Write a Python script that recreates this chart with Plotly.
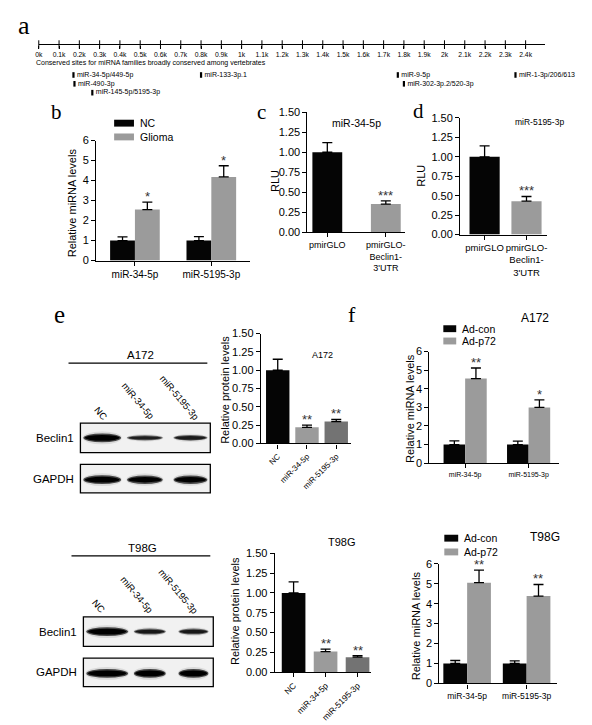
import plotly.graph_objects as go

W, H = 592, 725
SANS = "Liberation Sans, Arial, sans-serif"
SERIF = "Liberation Serif, Times New Roman, serif"


def px(x):
    return x / W


def py(y):
    return 1 - y / H


# ---------------- data ----------------
# panel a : 3'UTR map
A_TICK_LABELS = ["0k", "0.1k", "0.2k", "0.3k", "0.4k", "0.5k", "0.6k", "0.7k", "0.8k", "0.9k",
                 "1k", "1.1k", "1.2k", "1.3k", "1.4k", "1.5k", "1.6k", "1.7k", "1.8k", "1.9k",
                 "2k", "2.1k", "2.2k", "2.3k", "2.4k"]
A_SITE_LABELS = ["miR-34-5p/449-5p", "miR-490-3p", "miR-145-5p/5195-3p", "miR-133-3p.1",
                 "miR-9-5p", "miR-302-3p.2/520-3p", "miR-1-3p/206/613"]
A_SITE_POS_K = [0.171, 0.176, 0.264, 0.80, 1.77, 1.80, 2.35]
A_SITE_ROW = [0, 1, 2, 0, 0, 1, 0]

# panel b
B_CATS = ["miR-34-5p", "miR-5195-3p"]
B_SERIES = ["NC", "Glioma"]
B_NC = [1.0, 1.0]
B_NC_ERR = [0.18, 0.20]
B_GLIOMA = [2.55, 4.18]
B_GLIOMA_ERR = [0.37, 0.56]
B_SIG = ["*", "*"]

# panels c, d
C_CATS = ["pmirGLO", "pmirGLO-<br>Beclin1-<br>3'UTR"]
C_RLU = [1.0, 0.35]
C_ERR = [0.12, 0.04]
C_SIG = ["", "***"]
D_RLU = [1.0, 0.43]
D_ERR = [0.14, 0.06]
D_SIG = ["", "***"]

# panel e
E_CATS = ["NC", "miR-34-5p", "miR-5195-3p"]
E_A172 = [1.0, 0.22, 0.30]
E_A172_ERR = [0.15, 0.03, 0.03]
E_A172_SIG = ["", "**", "**"]
E_T98G = [1.0, 0.26, 0.19]
E_T98G_ERR = [0.14, 0.03, 0.02]
E_T98G_SIG = ["", "**", "**"]

# western blot band intensities (relative)
BLOT_LANES = ["NC", "miR-34-5p", "miR-5195-3p"]
A172_BECLIN1 = [1.0, 0.45, 0.5]
A172_GAPDH = [1.0, 0.95, 0.95]
T98G_BECLIN1 = [1.0, 0.55, 0.55]
T98G_GAPDH = [1.0, 1.0, 1.0]

# panel f
F_CATS = ["miR-34-5p", "miR-5195-3p"]
F_SERIES = ["Ad-con", "Ad-p72"]
F_A172_CON = [1.0, 1.0]
F_A172_CON_ERR = [0.20, 0.18]
F_A172_P72 = [4.55, 3.0]
F_A172_P72_ERR = [0.57, 0.40]
F_A172_SIG = ["**", "*"]
F_T98G_CON = [1.0, 1.0]
F_T98G_CON_ERR = [0.15, 0.13]
F_T98G_P72 = [5.05, 4.38]
F_T98G_P72_ERR = [0.63, 0.58]
F_T98G_SIG = ["**", "**"]

BLACK = "#050505"
GRAY = "#9b9b9b"
DGRAY = "#737373"

# ---------------- layout helpers ----------------
layout = dict(width=W, height=H, autosize=False, margin=dict(l=0, r=0, t=0, b=0),
              paper_bgcolor="white", plot_bgcolor="rgba(0,0,0,0)", barmode="overlay",
              showlegend=False, shapes=[], annotations=[],
              font=dict(family=SANS, color="black"))

AX = dict(showline=True, linecolor="black", linewidth=1.3, ticks="outside", ticklen=4,
          tickwidth=1.3, tickcolor="black", showgrid=False, zeroline=False,
          tickfont=dict(family=SANS, size=11, color="black"), fixedrange=True)


def set_axes(n, xpx, ypx, xr, yr, xkw=None, ykw=None):
    s = "" if n == 1 else str(n)
    xa = dict(AX)
    xa.update(domain=[px(xpx[0]), px(xpx[1])], range=xr, anchor="y" + s)
    ya = dict(AX)
    ya.update(domain=[py(ypx[1]), py(ypx[0])], range=yr, anchor="x" + s)
    xa.update(xkw or {})
    ya.update(ykw or {})
    layout["xaxis" + s] = xa
    layout["yaxis" + s] = ya


def ann(x, y, text, size=11, family=SANS, angle=0, xanchor="center", yanchor="middle", **kw):
    d = dict(x=px(x), y=py(y), xref="paper", yref="paper", text=text, showarrow=False,
             font=dict(family=family, size=size, color="black"), textangle=angle,
             xanchor=xanchor, yanchor=yanchor)
    d.update(kw)
    layout["annotations"].append(d)


traces = []


def bars(n, x, y, err, color, width, offset=None, name=None):
    s = "" if n == 1 else str(n)
    traces.append(go.Bar(
        x=x, y=y, width=width, offset=offset, name=name, showlegend=False,
        xaxis="x" + s, yaxis="y" + s,
        marker=dict(color=color, line=dict(width=0)),
        error_y=dict(type="data", array=err, arrayminus=[0] * len(err), symmetric=False,
                     color="black", thickness=1.3, width=5)))


def stars(n, xs, tops, sig, size=13):
    s = "" if n == 1 else str(n)
    for x, t, txt in zip(xs, tops, sig):
        if txt:
            layout["annotations"].append(dict(
                x=x, y=t, xref="x" + s, yref="y" + s, text=txt, showarrow=False,
                yanchor="bottom", yshift=-4, font=dict(family=SANS, size=size, color="#333")))


def key(x0, yc, w, names, colors, step, size=10.5):
    # legend keys (swatch + label)
    for i, (nm, col) in enumerate(zip(names, colors)):
        y = yc + i * step
        layout["shapes"].append(dict(type="rect", xref="paper", yref="paper",
                                     x0=px(x0), x1=px(x0 + w), y0=py(y + 3.5), y1=py(y - 3.5),
                                     fillcolor=col, line=dict(width=0)))
        ann(x0 + w + 4, y, nm, size=size, xanchor="left")


# ---------------- panel a ----------------
A_TICKS = [i / 10 for i in range(len(A_TICK_LABELS))]
A_YTOP = -31 / 9
set_axes(1, (27, 538), (31, 90), [0, 2.4 * 511 / 491], [28 / 9, A_YTOP],
         xkw=dict(anchor="free", position=py(31), tickvals=A_TICKS, ticktext=A_TICK_LABELS,
                  ticklen=3, tickwidth=1, linewidth=1.2, tickfont=dict(family=SANS, size=6.8)),
         ykw=dict(visible=False))
traces.append(go.Scatter(x=A_TICKS, y=[A_YTOP] * len(A_TICKS), mode="markers",
                         marker=dict(symbol="line-ns", size=6, line=dict(width=1, color="black")),
                         cliponaxis=False, showlegend=False, hoverinfo="skip"))
traces.append(go.Scatter(x=A_SITE_POS_K, y=A_SITE_ROW, mode="markers+text", text=A_SITE_LABELS,
                         textposition="middle right",
                         textfont=dict(family=SANS, size=7, color="black"),
                         marker=dict(symbol="line-ns", size=4, line=dict(width=2.2, color="black")),
                         cliponaxis=False, showlegend=False))
ann(22, 50, "Conserved sites for miRNA families broadly conserved among vertebrates", size=7,
    xanchor="left")
ann(12, 12, "a", size=26, family=SERIF)

# ---------------- panel b ----------------
wb = 0.325
set_axes(2, (85, 240), (128.7, 250.7), [-0.506, 1.506], [0, 6],
         xkw=dict(tickvals=[0, 1], ticktext=B_CATS, tickfont=dict(family=SANS, size=10)),
         ykw=dict(dtick=1))
bars(2, [0, 1], B_NC, B_NC_ERR, BLACK, wb, offset=-wb, name=B_SERIES[0])
bars(2, [0, 1], B_GLIOMA, B_GLIOMA_ERR, GRAY, wb, offset=0, name=B_SERIES[1])
stars(2, [i + wb / 2 for i in range(2)], [v + e for v, e in zip(B_GLIOMA, B_GLIOMA_ERR)], B_SIG)
ann(60, 192, "Relative miRNA levels", angle=-90)
ann(45, 100, "b", size=21, family=SERIF)
key(103, 111, 20, B_SERIES, [BLACK, GRAY], 14)

# ---------------- panel c ----------------
RLU_TICKS = dict(tickvals=[0, 0.25, 0.5, 0.75, 1.0, 1.25, 1.5], tickformat=".2f")
set_axes(3, (298, 396), (100, 221.7), [-0.339, 1.322], [0, 1.5],
         xkw=dict(tickvals=[0, 1], ticktext=C_CATS, tickangle=0,
                  tickfont=dict(family=SANS, size=9)),
         ykw=RLU_TICKS)
bars(3, [0, 1], C_RLU, C_ERR, [BLACK, GRAY], 0.51)
stars(3, [0, 1], [v + e for v, e in zip(C_RLU, C_ERR)], C_SIG)
ann(347, 111, "miR-34-5p", size=10.5)
ann(265, 170, "RLU", angle=-90)
ann(252, 100, "c", size=21, family=SERIF)

# ---------------- panel d ----------------
set_axes(4, (452, 540), (105.7, 224.3), [-0.583, 1.5], [0, 1.5],
         xkw=dict(tickvals=[0, 1], ticktext=C_CATS, tickangle=0,
                  tickfont=dict(family=SANS, size=9.5)),
         ykw=RLU_TICKS)
bars(4, [0, 1], D_RLU, D_ERR, [BLACK, GRAY], 0.72)
stars(4, [0, 1], [v + e for v, e in zip(D_RLU, D_ERR)], D_SIG)
ann(532, 110, "miR-5195-3p", size=8.5)
ann(413, 165, "RLU", angle=-90)
ann(410, 99, "d", size=21, family=SERIF)

# ---------------- panel e (bars) ----------------
set_axes(5, (251, 342), (325, 436.7), [-0.576, 2.508], [0, 1.5],
         xkw=dict(tickvals=[0, 1, 2], ticktext=E_CATS, tickangle=-45,
                  tickfont=dict(family=SANS, size=8)),
         ykw=RLU_TICKS)
bars(5, [0, 1, 2], E_A172, E_A172_ERR, [BLACK, GRAY, DGRAY], 0.8)
stars(5, [0, 1, 2], [v + e for v, e in zip(E_A172, E_A172_ERR)], E_A172_SIG)
ann(313, 347, "A172", size=9)
ann(214, 382, "Relative protein levels", angle=-90)

set_axes(7, (265, 362), (548.3, 669.3), [-0.589, 2.419], [0, 1.5],
         xkw=dict(tickvals=[0, 1, 2], ticktext=E_CATS, tickangle=-45,
                  tickfont=dict(family=SANS, size=8.5)),
         ykw=RLU_TICKS)
bars(7, [0, 1, 2], E_T98G, E_T98G_ERR, [BLACK, GRAY, DGRAY], 0.74)
stars(7, [0, 1, 2], [v + e for v, e in zip(E_T98G, E_T98G_ERR)], E_T98G_SIG)
ann(333, 537, "T98G", size=11)
ann(225, 607, "Relative protein levels", angle=-90)

ann(48, 306, "e", size=25, family=SERIF)
ann(343, 306, "f", size=22, family=SERIF)

# ---------------- panel f ----------------
wf = 0.34
set_axes(6, (421, 552), (343.3, 456.7), [-0.5625, 1.484], [0, 6],
         xkw=dict(tickvals=[0, 1], ticktext=F_CATS, tickfont=dict(family=SANS, size=7)),
         ykw=dict(dtick=1))
bars(6, [0, 1], F_A172_CON, F_A172_CON_ERR, BLACK, wf, offset=-wf, name=F_SERIES[0])
bars(6, [0, 1], F_A172_P72, F_A172_P72_ERR, GRAY, wf, offset=0, name=F_SERIES[1])
stars(6, [i + wf / 2 for i in range(2)], [v + e for v, e in zip(F_A172_P72, F_A172_P72_ERR)],
      F_A172_SIG)
ann(527, 309, "A172", size=12)
ann(402, 401, "Relative miRNA levels", angle=-90)
key(435, 320, 13, F_SERIES, [BLACK, GRAY], 12.5, size=10.5)

wf2 = 0.4
set_axes(8, (431, 550), (559, 680.7), [-0.467, 1.517], [0, 6],
         xkw=dict(tickvals=[0, 1], ticktext=F_CATS, tickfont=dict(family=SANS, size=8.5)),
         ykw=dict(dtick=1))
bars(8, [0, 1], F_T98G_CON, F_T98G_CON_ERR, BLACK, wf2, offset=-wf2, name=F_SERIES[0])
bars(8, [0, 1], F_T98G_P72, F_T98G_P72_ERR, GRAY, wf2, offset=0, name=F_SERIES[1])
stars(8, [i + wf2 / 2 for i in range(2)], [v + e for v, e in zip(F_T98G_P72, F_T98G_P72_ERR)],
      F_T98G_SIG)
ann(538, 532, "T98G", size=12)
ann(407, 622, "Relative miRNA levels", angle=-90)
key(436, 533, 14, F_SERIES, [BLACK, GRAY], 14, size=10.5)


# ---------------- western blots (drawn illustration) ----------------
def rect(x0, y0, x1, y1, **kw):
    d = dict(type="rect", xref="paper", yref="paper", x0=px(x0), x1=px(x1), y0=py(y1), y1=py(y0))
    d.update(kw)
    layout["shapes"].append(d)


def ellipse(cx, cy, w, h, color, opacity):
    layout["shapes"].append(dict(type="circle", xref="paper", yref="paper",
                                 x0=px(cx - w / 2), x1=px(cx + w / 2),
                                 y0=py(cy + h / 2), y1=py(cy - h / 2),
                                 fillcolor=color, opacity=opacity, line=dict(width=0)))


def band(cx, cy, w, inten):
    h = 2.5 + 6.5 * inten
    ellipse(cx, cy, w * 1.04, h * 1.45, "#888", 0.12 + 0.1 * inten)
    ellipse(cx, cy, w, h, "#333", 0.45 + 0.45 * inten)
    ellipse(cx, cy, w * 0.92, h * 0.65, "#000", 0.5 + 0.5 * inten)


def blot(title, title_xy, top, left, lanes, lane_w, label_xy, beclin, gapdh):
    ann(title_xy[0], title_xy[1], title, size=11.5)
    layout["shapes"].append(dict(type="line", xref="paper", yref="paper", x0=px(left - 12),
                                 x1=px(left + 128), y0=py(title_xy[1] + 8),
                                 y1=py(title_xy[1] + 8),
                                 line=dict(color="black", width=1.2)))
    for (lx, ly), lab in zip(label_xy, BLOT_LANES):
        ann(lx, ly, lab, size=9.5, angle=50)
    b0, b1 = top, top + 30
    g0, g1 = top + 42, top + 71
    rect(left, b0, left + 131, b1, fillcolor="#f1f1f1", line=dict(color="black", width=1.3))
    rect(left, g0, left + 131, g1, fillcolor="#f1f1f1", line=dict(color="black", width=1.3))
    for lx, w, it in zip(lanes, lane_w, beclin):
        band(lx, (b0 + b1) / 2, w, it)
    for lx, w, it in zip(lanes, lane_w, gapdh):
        band(lx, (g0 + g1) / 2 + 1, w, it)
    ann(left - 4, (b0 + b1) / 2, "Beclin1", size=11.5, xanchor="right")
    ann(left - 4, (g0 + g1) / 2, "GAPDH", size=11.5, xanchor="right")


blot("A172", (130, 347), 416, 69, [91, 134, 180], [38, 36, 34],
     [(90, 406), (127, 393), (169, 390)], A172_BECLIN1, A172_GAPDH)
blot("T98G", (132, 543), 613, 72, [96, 139, 183], [42, 32, 30],
     [(88, 602), (126, 590), (168, 587)], T98G_BECLIN1, T98G_GAPDH)

fig = go.Figure(data=traces, layout=layout)
fig.write_html("out.html")
